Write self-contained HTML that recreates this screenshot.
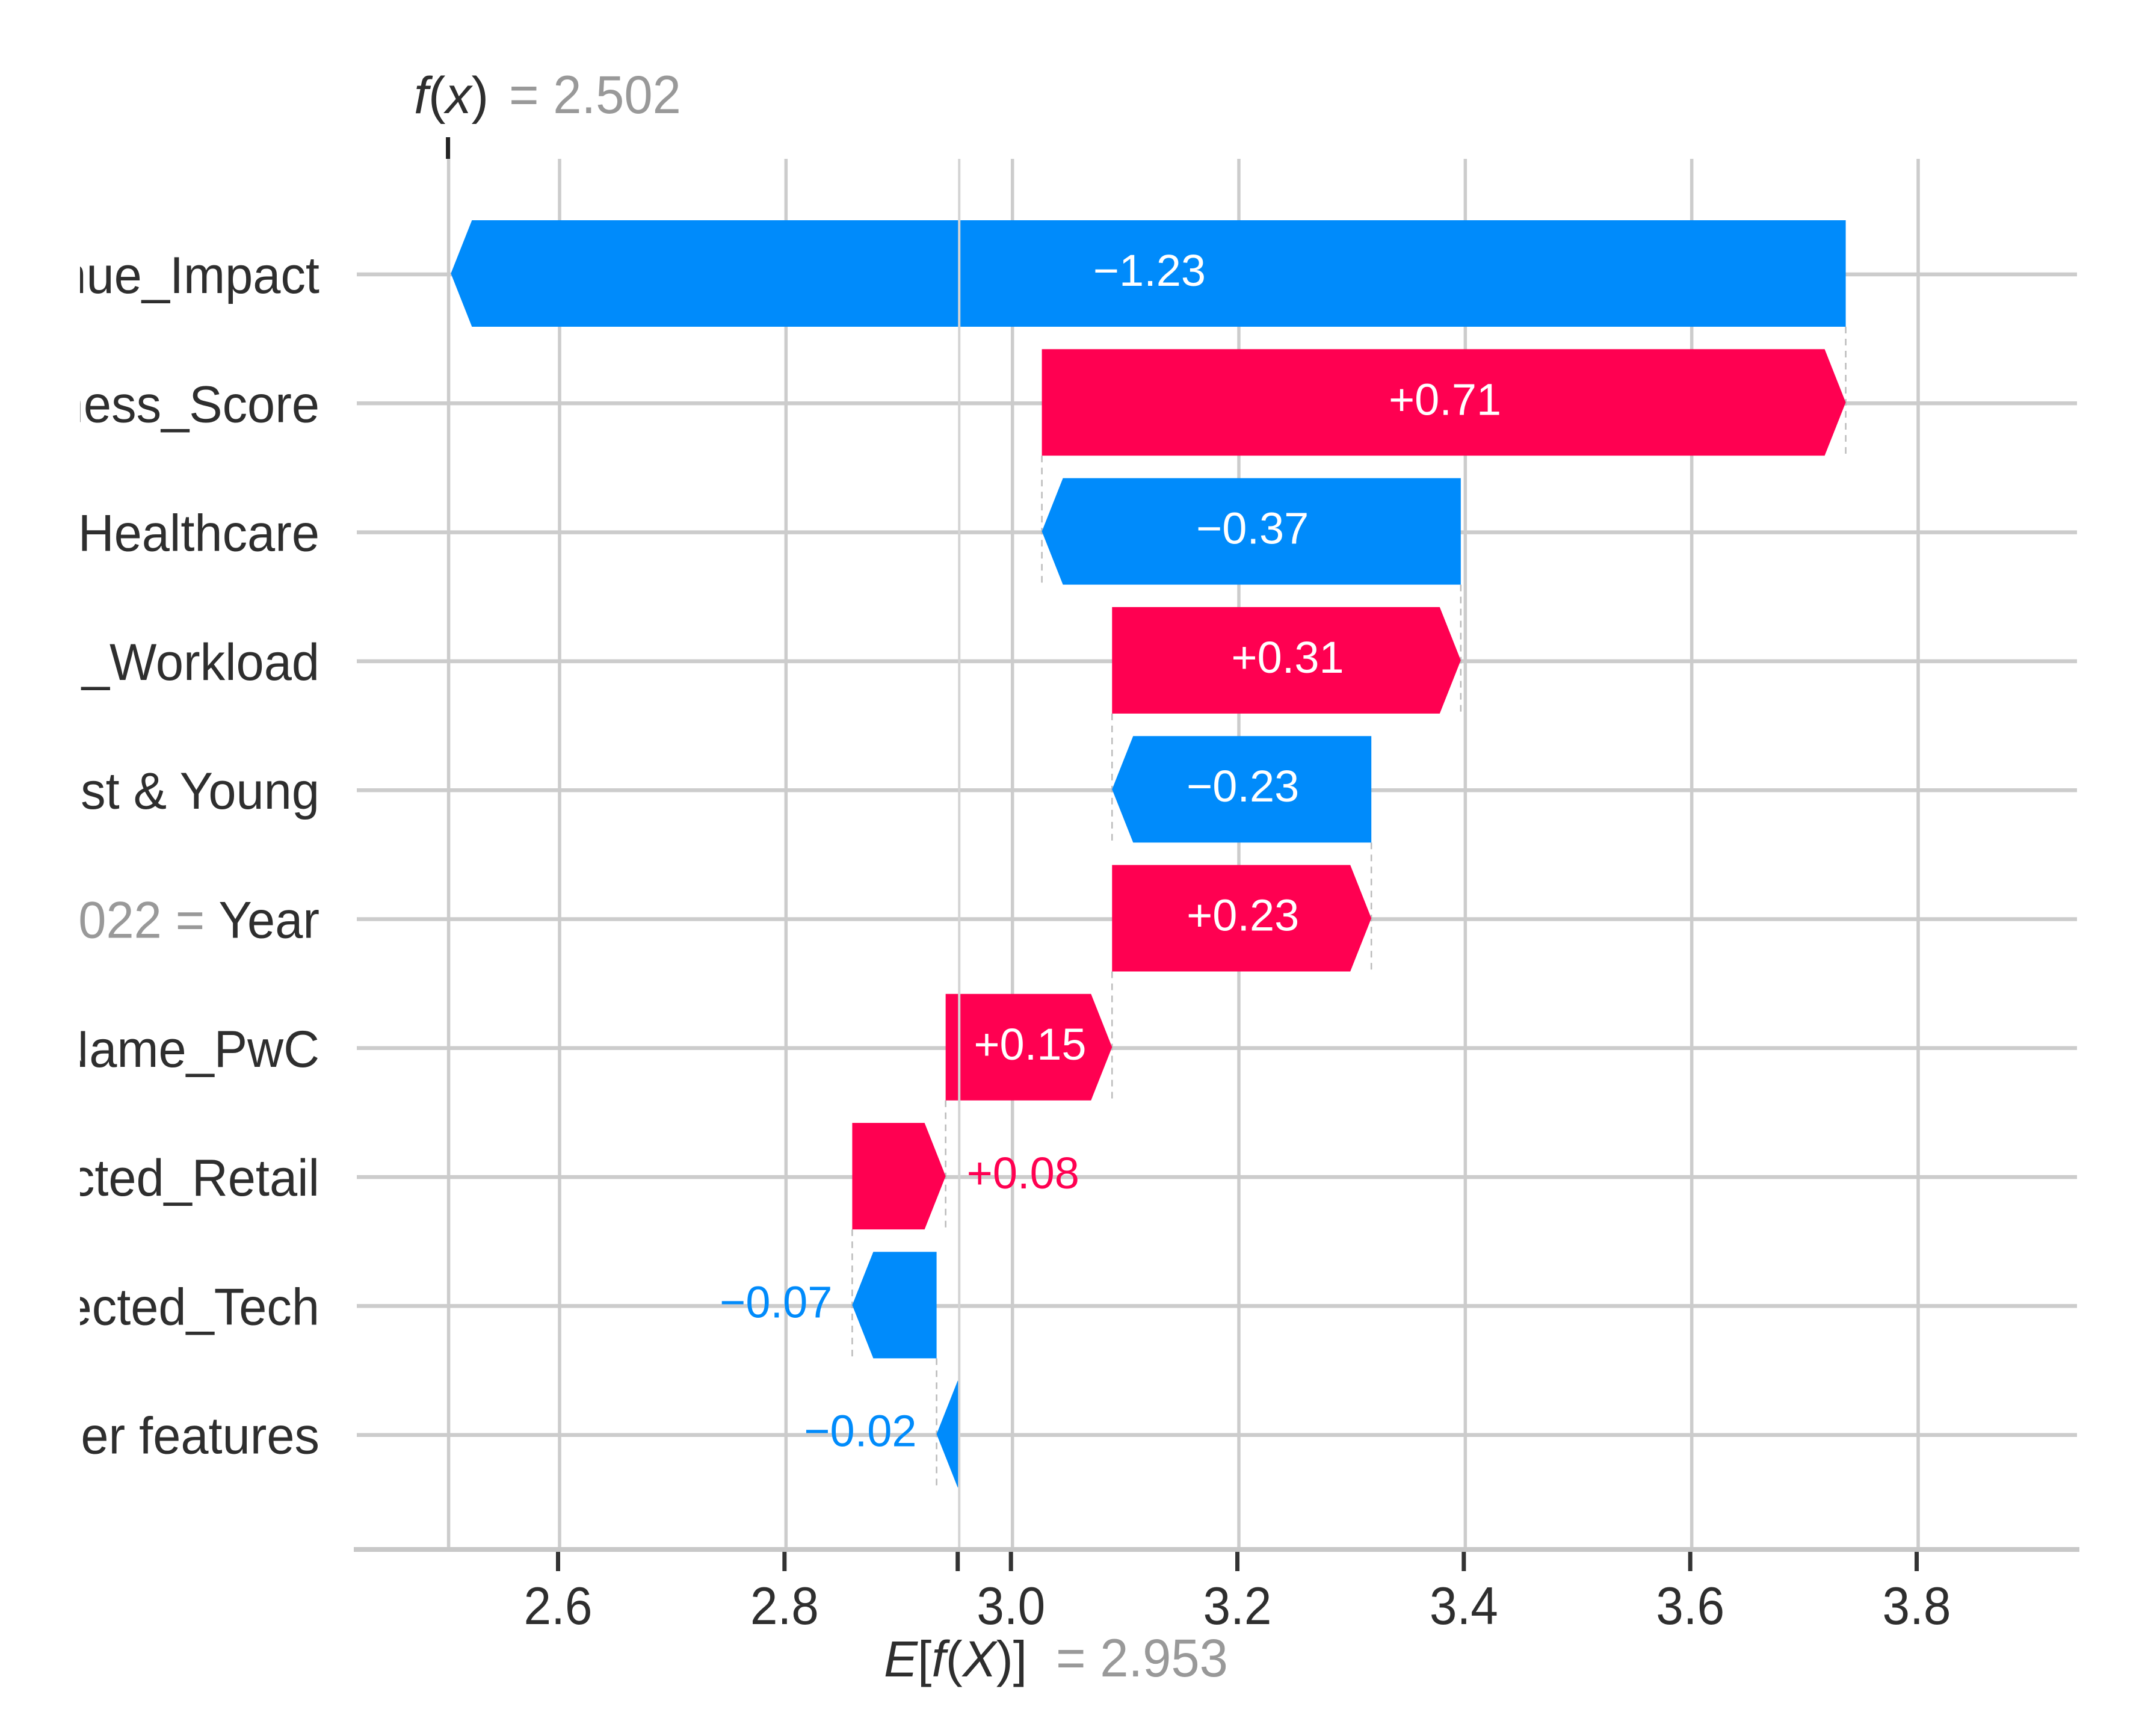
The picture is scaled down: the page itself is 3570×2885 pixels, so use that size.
<!DOCTYPE html>
<html lang="en">
<head>
<meta charset="utf-8">
<title>SHAP waterfall chart</title>
<style>
  html, body { margin: 0; padding: 0; background: #fff; }
  #chart-root { display: block; width: 3570px; height: 2885px; }
  text { font-family: "Liberation Sans", Arial, sans-serif; }
</style>
</head>
<body>
<svg id="chart-root" xmlns="http://www.w3.org/2000/svg" width="3570" height="2885" viewBox="0 0 3570 2885">
  <defs>
    <clipPath id="label-clip"><rect x="133" y="0" width="600" height="2885"></rect></clipPath>
  </defs>
  <rect x="0" y="0" width="3570" height="2885" fill="#ffffff"></rect>
  <g id="grid-layer"></g>
  <g id="connector-layer"></g>
  <g id="bar-layer"></g>
  <g id="overlay-layer"></g>
  <g id="value-layer"></g>
  <g id="label-layer" clip-path="url(#label-clip)"></g>
  <g id="axis-layer"></g>
  <g id="header-layer"></g>
</svg>
<script>
// Chart data: top row first
const featureNames = ['nue_Impact', 'ness_Score', 'Healthcare', 'g_Workload', 'st & Young', 'Year', 'Name_PwC', 'ected_Retail', 'ected_Tech', 'her features'];
const featureValues = ['', '', '', '', '', '2022', '', '', '', ''];
const shapValues = [-1.232, 0.71, -0.37, 0.308, -0.229, 0.229, 0.147, 0.0825, -0.0745, -0.02];
const xTicks = [2.6, 2.8, 3.0, 3.2, 3.4, 3.6, 3.8];
const baseValue = 2.953;
const predictionValue = 2.502;

const NS = 'http://www.w3.org/2000/svg';
const BLUE = '#008bfb';
const PINK = '#ff0051';
const GRID = '#cccccc';

function xScale(v) { return 930 + (v - 2.6) * 1881.7; }
function yScale(i) { return 456 + i * 214.3; }

function make(tag, parent, attrs) {
  const el = document.createElementNS(NS, tag);
  for (const k in attrs) el.setAttribute(k, attrs[k]);
  parent.appendChild(el);
  return el;
}

function signed(v) {
  const s = Math.abs(v).toFixed(2);
  return (v < 0 ? '\u2212' : '+') + s;
}

function addSpans(textEl, parts) {
  parts.forEach(function (part) {
    const span = make('tspan', textEl, { 'font-style': part[1] ? 'italic' : 'normal' });
    span.textContent = part[0];
  });
}

const grid = document.getElementById('grid-layer');
const connectors = document.getElementById('connector-layer');
const bars = document.getElementById('bar-layer');
const overlay = document.getElementById('overlay-layer');
const valuesLayer = document.getElementById('value-layer');
const labels = document.getElementById('label-layer');
const axis = document.getElementById('axis-layer');
const header = document.getElementById('header-layer');

const gridTop = 264;
const axisY = 2575;
const barHalf = 88.5;
const headLen = 35;

// Vertical grid lines
xTicks.forEach(function (t) {
  const line = make('line', grid, { x1: xScale(t), x2: xScale(t), y1: gridTop, y2: axisY, stroke: GRID, 'stroke-width': 5.5 });
  
  
});
const fxLine = make('line', grid, { x1: xScale(predictionValue), x2: xScale(predictionValue), y1: gridTop, y2: axisY, stroke: GRID, 'stroke-width': 5.5 });



// Horizontal row lines
featureNames.forEach(function (name, i) {
  const line = make('line', grid, { x1: 593, x2: 3452, y1: yScale(i), y2: yScale(i), stroke: GRID, 'stroke-width': 6.5 });
  
  
});

// Walk from the base value up the rows (bottom row first)
const rowStart = new Array(shapValues.length);
const rowEnd = new Array(shapValues.length);
let running = baseValue;
for (let i = shapValues.length - 1; i >= 0; i--) {
  rowStart[i] = running;
  running += shapValues[i];
  rowEnd[i] = running;
}

shapValues.forEach(function (v, i) {
  const cy = yScale(i) - 1.5;
  const top = cy - barHalf;
  const bottom = cy + barHalf;
  const x0 = xScale(rowStart[i]);
  const x1 = xScale(rowEnd[i]);
  const dir = v >= 0 ? 1 : -1;
  const width = Math.abs(x1 - x0);
  const neck = width > headLen ? x1 - dir * headLen : x0;
  const color = v >= 0 ? PINK : BLUE;

  // Connector between this row and the row above
  if (i > 0) {
    const cx = xScale(rowStart[i - 1]);
    const conn = make('line', connectors, {
      x1: cx, x2: cx, y1: yScale(i - 1) - 1.5 + barHalf, y2: bottom,
      stroke: '#bbbbbb', 'stroke-width': 2.5, 'stroke-dasharray': '11 9'
    });
    
    
  }

  const bar = make('polygon', bars, {
    points: [[x0, top], [neck, top], [x1, cy], [neck, bottom], [x0, bottom]].map(function (p) { return p.join(','); }).join(' '),
    fill: color
  });
  
  

  // Value label: inside when it fits, beside the tip otherwise
  const inside = width > 220;
  const attrs = { y: yScale(i) + 19, 'font-size': 74 };
  if (inside) {
    attrs.x = (x0 + x1) / 2 + 2;
    attrs['text-anchor'] = 'middle';
    attrs.fill = '#ffffff';
  } else if (v >= 0) {
    attrs.x = x1 + 35;
    attrs['text-anchor'] = 'start';
    attrs.fill = color;
  } else {
    attrs.x = x1 - 33;
    attrs['text-anchor'] = 'end';
    attrs.fill = color;
  }
  const valueText = make('text', valuesLayer, attrs);
  valueText.textContent = signed(v);
  
  

  // Feature label
  const label = make('text', labels, { transform: 'translate(531,' + (yScale(i) + 31) + ') scale(1,1.04)', 'font-size': 83, 'text-anchor': 'end', fill: '#2e2e2e' });
  
  
  if (featureValues[i]) {
    const valueSpan = make('tspan', label, { fill: '#999999' });
    valueSpan.textContent = featureValues[i] + ' = ';
  }
  const nameSpan = make('tspan', label, {});
  nameSpan.textContent = featureNames[i];
});

// Expected value line sits over the bars
const eLine = make('line', overlay, { x1: xScale(baseValue), x2: xScale(baseValue), y1: gridTop, y2: axisY, stroke: '#d4d4d4', 'stroke-width': 4 });



// Axis line
const axisLine = make('line', axis, { x1: 588, x2: 3456, y1: axisY, y2: axisY, stroke: '#c8c8c8', 'stroke-width': 8 });



// Ticks and tick labels
xTicks.forEach(function (t) {
  const x = xScale(t) - 2.5;
  const tick = make('line', axis, { x1: x, x2: x, y1: 2579, y2: 2611, stroke: '#333333', 'stroke-width': 7 });
  
  
  const lbl = make('text', axis, { transform: 'translate(' + x + ',2699) scale(1,1.07)', 'font-size': 82, 'text-anchor': 'middle', fill: '#2e2e2e' });
  lbl.textContent = t.toFixed(1);
  
  
});
const eTick = make('line', axis, { x1: xScale(baseValue) - 2.5, x2: xScale(baseValue) - 2.5, y1: 2579, y2: 2611, stroke: '#333333', 'stroke-width': 7 });



// E[f(X)] label
const eLabel = make('text', axis, { x: 1469, y: 2786, 'font-size': 84, fill: '#2e2e2e' });


addSpans(eLabel, [['E', true], ['[', false], ['f', true], ['(', false], ['X', true], [')', false], [']', false]]);
const eValue = make('text', axis, { transform: 'translate(1755,2786) scale(1,1.05)', 'font-size': 85, fill: '#999999' });
eValue.textContent = '= ' + baseValue.toFixed(3);



// f(x) header
const fxTick = make('line', header, { x1: xScale(predictionValue) - 1, x2: xScale(predictionValue) - 1, y1: 228, y2: 264, stroke: '#222222', 'stroke-width': 7 });


const fxLabel = make('text', header, { x: 688, y: 188, 'font-size': 86, fill: '#2e2e2e' });


addSpans(fxLabel, [['f', true], ['(', false], ['x', true], [')', false]]);
const fxValue = make('text', header, { transform: 'translate(846,188) scale(1,1.05)', 'font-size': 85, fill: '#999999' });
fxValue.textContent = '= ' + predictionValue.toFixed(3);


</script>
</body>
</html>
